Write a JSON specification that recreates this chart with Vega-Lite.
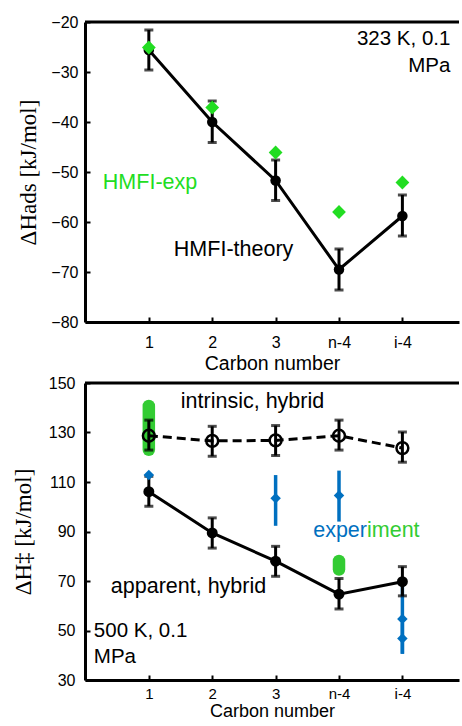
{
  "$schema": "https://vega.github.io/schema/vega-lite/v6.json",
  "padding": {"left": 12, "top": 14, "right": 0, "bottom": 0},
  "spacing": 2,
  "background": "white",
  "config": {
    "view": {"stroke": null},
    "font": "Liberation Sans",
    "axis": {
      "domainColor": "black", "domainWidth": 3, "tickColor": "black", "tickWidth": 2, "tickSize": -5,
      "labelColor": "black", "labelFontSize": 16, "labelFont": "Liberation Sans",
      "titleColor": "black", "titleFontWeight": "normal", "grid": false
    },
    "axisX": {"titleFontSize": 19.5, "titleFont": "Liberation Sans", "labelAngle": 0, "labelPadding": 17, "titlePadding": 4},
    "axisY": {"titleFont": "Liberation Serif", "titleFontSize": 23}
  },
  "datasets": {
    "ads": [
      {"carbon": "1", "theory": -25.6, "lo": -29.6, "hi": -21.6, "exp": -25.1},
      {"carbon": "2", "theory": -40.0, "lo": -44.1, "hi": -35.8, "exp": -37.1},
      {"carbon": "3", "theory": -51.7, "lo": -55.7, "hi": -47.6, "exp": -46.1},
      {"carbon": "n-4", "theory": -69.5, "lo": -73.6, "hi": -65.4, "exp": -58.0},
      {"carbon": "i-4", "theory": -58.8, "lo": -62.8, "hi": -54.6, "exp": -52.1}
    ],
    "act": [
      {"carbon": "1", "intrinsic": 128.7, "ilo": 122.9, "ihi": 135.0, "apparent": 106.1, "alo": 100.2, "ahi": 112.3},
      {"carbon": "2", "intrinsic": 126.6, "ilo": 120.4, "ihi": 132.5, "apparent": 89.4, "alo": 83.3, "ahi": 95.5},
      {"carbon": "3", "intrinsic": 126.8, "ilo": 120.7, "ihi": 132.8, "apparent": 78.0, "alo": 71.9, "ahi": 84.0},
      {"carbon": "n-4", "intrinsic": 128.7, "ilo": 122.9, "ihi": 135.0, "apparent": 64.7, "alo": 58.7, "ahi": 71.0},
      {"carbon": "i-4", "intrinsic": 123.7, "ilo": 118.0, "ihi": 130.2, "apparent": 69.7, "alo": 64.0, "ahi": 75.8}
    ],
    "expBlue": [
      {"carbon": "1", "value": 112.8, "lo": 112.8, "hi": 112.8},
      {"carbon": "3", "value": 103.4, "lo": 92.3, "hi": 112.8},
      {"carbon": "n-4", "value": 104.5, "lo": 94.0, "hi": 114.6},
      {"carbon": "i-4", "value": 54.6, "lo": 40.6, "hi": 68.0},
      {"carbon": "i-4", "value": 46.8, "lo": 40.6, "hi": 53.0}
    ],
    "expGreen": [
      {"carbon": "1", "lo": 123.0, "hi": 140.7},
      {"carbon": "n-4", "lo": 74.6, "hi": 78.1}
    ]
  },
  "vconcat": [
    {
      "width": 374,
      "height": 300,
      "encoding": {
        "x": {"field": "carbon", "type": "nominal", "sort": ["1", "2", "3", "n-4", "i-4"],
              "scale": {"type": "point", "padding": 0.95, "align": 0.53},
              "axis": {"title": "Carbon number"}}
      },
      "layer": [
        {"data": {"values": [{"top": -20}]}, "mark": {"type": "rule", "color": "black", "strokeWidth": 3},
         "encoding": {"x": null, "y": {"field": "top", "type": "quantitative"}}},
        {"data": {"name": "ads"}, "mark": {"type": "rule", "color": "black", "strokeWidth": 3},
         "encoding": {
           "y": {"field": "lo", "type": "quantitative",
                 "scale": {"domain": [-80, -20], "nice": false, "zero": false},
                 "axis": {"title": "ΔHads  [kJ/mol]", "values": [-80, -70, -60, -50, -40, -30, -20], "labelPadding": 12, "titlePadding": 10}},
           "y2": {"field": "hi"}}},
        {"data": {"name": "ads"}, "mark": {"type": "tick", "color": "black", "size": 9, "thickness": 3},
         "encoding": {"y": {"field": "lo", "type": "quantitative"}}},
        {"data": {"name": "ads"}, "mark": {"type": "tick", "color": "black", "size": 9, "thickness": 3},
         "encoding": {"y": {"field": "hi", "type": "quantitative"}}},
        {"data": {"name": "ads"}, "mark": {"type": "line", "color": "black", "strokeWidth": 3},
         "encoding": {"y": {"field": "theory", "type": "quantitative"}}},
        {"data": {"name": "ads"}, "mark": {"type": "point", "filled": true, "color": "black", "size": 110, "opacity": 1},
         "encoding": {"y": {"field": "theory", "type": "quantitative"}}},
        {"data": {"name": "ads"}, "mark": {"type": "point", "shape": "diamond", "filled": true, "color": "#22dd22", "size": 190, "opacity": 1},
         "encoding": {"y": {"field": "exp", "type": "quantitative"}}},
        {"data": {"values": [{"t": "323 K, 0.1", "carbon": "i-4", "v": -23.4}, {"t": "MPa", "carbon": "i-4", "v": -28.8}]},
         "mark": {"type": "text", "align": "right", "baseline": "middle", "fontSize": 20.5, "dx": 48, "color": "black"},
         "encoding": {"y": {"field": "v", "type": "quantitative"}, "text": {"field": "t"}}},
        {"data": {"values": [{"t": "HMFI-exp", "carbon": "1", "v": -52.2}]},
         "mark": {"type": "text", "align": "left", "baseline": "middle", "fontSize": 21.5, "dx": -46, "color": "#22dd22"},
         "encoding": {"y": {"field": "v", "type": "quantitative"}, "text": {"field": "t"}}},
        {"data": {"values": [{"t": "HMFI-theory", "carbon": "1", "v": -65.6}]},
         "mark": {"type": "text", "align": "left", "baseline": "middle", "fontSize": 21.5, "dx": 25, "color": "black"},
         "encoding": {"y": {"field": "v", "type": "quantitative"}, "text": {"field": "t"}}}
      ]
    },
    {
      "width": 374,
      "height": 297,
      "encoding": {
        "x": {"field": "carbon", "type": "nominal", "sort": ["1", "2", "3", "n-4", "i-4"],
              "scale": {"type": "point", "padding": 0.95, "align": 0.53},
              "axis": {"title": "Carbon number", "labelFontSize": 15, "labelPadding": 11, "titlePadding": 1, "titleFontSize": 18}}
      },
      "layer": [
        {"data": {"values": [{"top": 150}]}, "mark": {"type": "rule", "color": "black", "strokeWidth": 3},
         "encoding": {"x": null, "y": {"field": "top", "type": "quantitative"}}},
        {"data": {"name": "expGreen"}, "mark": {"type": "rule", "color": "#33cc33", "strokeWidth": 12.5, "strokeCap": "round"},
         "encoding": {
           "y": {"field": "lo", "type": "quantitative",
                 "scale": {"domain": [30, 150], "nice": false, "zero": false},
                 "axis": {"title": "ΔH‡ [kJ/mol]", "values": [30, 40, 50, 60, 70, 80, 90, 100, 110, 120, 130, 140, 150],
                          "labelExpr": "(datum.value - 30) % 20 == 0 ? datum.label : ''", "labelPadding": 15, "titlePadding": 13}},
           "y2": {"field": "hi"}}},
        {"data": {"name": "expBlue"}, "mark": {"type": "rule", "color": "#0070c0", "strokeWidth": 3.5},
         "encoding": {"y": {"field": "lo", "type": "quantitative"}, "y2": {"field": "hi"}}},
        {"data": {"name": "act"}, "mark": {"type": "rule", "color": "black", "strokeWidth": 3},
         "encoding": {"y": {"field": "ilo", "type": "quantitative"}, "y2": {"field": "ihi"}}},
        {"data": {"name": "act"}, "mark": {"type": "tick", "color": "black", "size": 9, "thickness": 3},
         "encoding": {"y": {"field": "ilo", "type": "quantitative"}}},
        {"data": {"name": "act"}, "mark": {"type": "tick", "color": "black", "size": 9, "thickness": 3},
         "encoding": {"y": {"field": "ihi", "type": "quantitative"}}},
        {"data": {"name": "act"}, "mark": {"type": "line", "color": "black", "strokeWidth": 3, "strokeDash": [9, 5]},
         "encoding": {"y": {"field": "intrinsic", "type": "quantitative"}}},
        {"data": {"name": "act"}, "mark": {"type": "point", "filled": false, "color": "black", "strokeWidth": 2.5, "size": 140, "opacity": 1},
         "encoding": {"y": {"field": "intrinsic", "type": "quantitative"}}},
        {"data": {"name": "act"}, "mark": {"type": "rule", "color": "black", "strokeWidth": 3},
         "encoding": {"y": {"field": "alo", "type": "quantitative"}, "y2": {"field": "ahi"}}},
        {"data": {"name": "act"}, "mark": {"type": "tick", "color": "black", "size": 9, "thickness": 3},
         "encoding": {"y": {"field": "alo", "type": "quantitative"}}},
        {"data": {"name": "act"}, "mark": {"type": "tick", "color": "black", "size": 9, "thickness": 3},
         "encoding": {"y": {"field": "ahi", "type": "quantitative"}}},
        {"data": {"name": "act"}, "mark": {"type": "line", "color": "black", "strokeWidth": 3},
         "encoding": {"y": {"field": "apparent", "type": "quantitative"}}},
        {"data": {"name": "act"}, "mark": {"type": "point", "filled": true, "color": "black", "size": 120, "opacity": 1},
         "encoding": {"y": {"field": "apparent", "type": "quantitative"}}},
        {"data": {"name": "expBlue"}, "mark": {"type": "point", "shape": "diamond", "filled": true, "color": "#0070c0", "size": 110, "opacity": 1},
         "encoding": {"y": {"field": "value", "type": "quantitative"}}},
        {"data": {"values": [{"t": "intrinsic, hybrid", "carbon": "1", "v": 142.3}]},
         "mark": {"type": "text", "align": "left", "baseline": "middle", "fontSize": 21.5, "color": "black", "dx": 32},
         "encoding": {"y": {"field": "v", "type": "quantitative"}, "text": {"field": "t"}}},
        {"data": {"values": [{"t": "apparent, hybrid", "carbon": "1", "v": 67.6}]},
         "mark": {"type": "text", "align": "left", "baseline": "middle", "fontSize": 21.5, "color": "black", "dx": -38},
         "encoding": {"y": {"field": "v", "type": "quantitative"}, "text": {"field": "t"}}},
        {"data": {"values": [{"t": "exper", "carbon": "n-4", "v": 90.2}]},
         "mark": {"type": "text", "align": "right", "baseline": "middle", "fontSize": 21.5, "dx": 28, "color": "#0070c0"},
         "encoding": {"y": {"field": "v", "type": "quantitative"}, "text": {"field": "t"}}},
        {"data": {"values": [{"t": "iment", "carbon": "n-4", "v": 90.2}]},
         "mark": {"type": "text", "align": "left", "baseline": "middle", "fontSize": 21.5, "dx": 28, "color": "#33cc33"},
         "encoding": {"y": {"field": "v", "type": "quantitative"}, "text": {"field": "t"}}},
        {"data": {"values": [{"t": "500 K, 0.1", "carbon": "1", "v": 49.8}, {"t": "MPa", "carbon": "1", "v": 39.3}]},
         "mark": {"type": "text", "align": "left", "baseline": "middle", "fontSize": 20.5, "dx": -55, "color": "black"},
         "encoding": {"y": {"field": "v", "type": "quantitative"}, "text": {"field": "t"}}}
      ]
    }
  ]
}
